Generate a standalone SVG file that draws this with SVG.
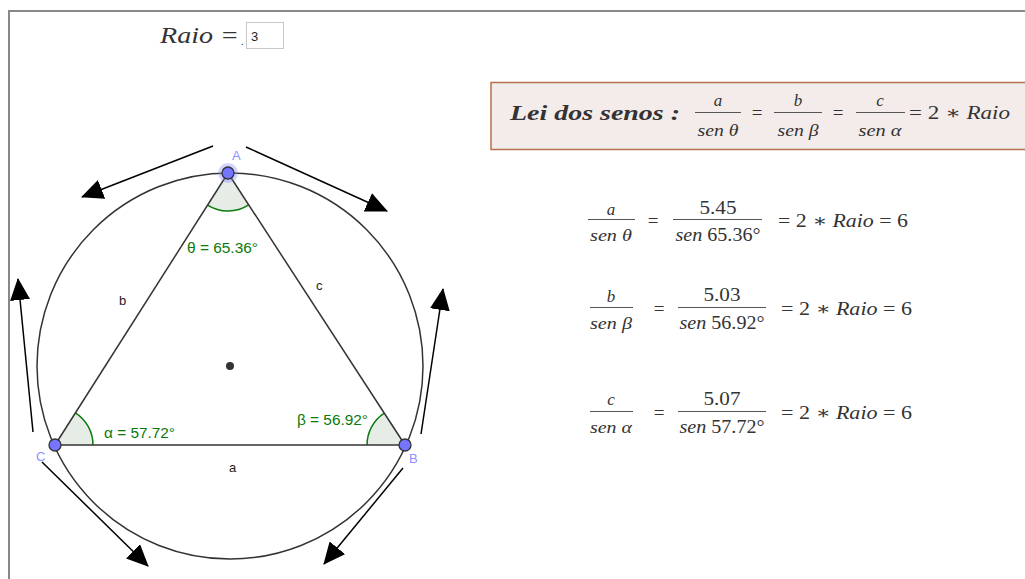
<svg xmlns="http://www.w3.org/2000/svg" width="1025" height="579" viewBox="0 0 1025 579">
<style>
.sans{font-family:"Liberation Sans",Arial,sans-serif;font-size:13px}
.lbl{fill:#222}
.vtx{fill:#8f8fff}
.ang{fill:#0a7a0a;font-size:14px}
.m{font-family:"Liberation Serif","DejaVu Serif",serif;fill:#333}
.it{font-style:italic}
.sector{fill:#e6ede6}
.side{stroke:#333;stroke-width:1.5;fill:none}
.arc{fill:none;stroke:#0a7a0a;stroke-width:1.5}
.arr{stroke:#000;stroke-width:1.5;fill:none;marker-end:url(#ah)}
.frac{stroke:#555;stroke-width:1}
.pt{fill:#7575ff;stroke:#333;stroke-width:1.3}
</style>
<defs>
<marker id="ah" markerUnits="userSpaceOnUse" markerWidth="22" markerHeight="20" refX="21" refY="10" orient="auto">
<path d="M0,0 L22,10 L0,20 Z" fill="#000"/>
</marker>
</defs>
<rect width="1025" height="579" fill="#fff"/>
<g id="frame" stroke="#888" stroke-width="2" fill="none">
<line x1="8" y1="11" x2="1025" y2="11"/>
<line x1="9" y1="10" x2="9" y2="579"/>
</g>

<g id="raio">
<text x="160" y="43" class="m it" font-size="23" fill="#222" textLength="79" lengthAdjust="spacingAndGlyphs">Raio =</text>
<text x="241" y="45" class="m" font-size="10">.</text>
<rect x="246.5" y="22.5" width="37" height="26" fill="#fff" stroke="#c8c8c8"/>
<text x="251" y="41" class="sans" fill="#222">3</text>
</g>

<g id="circle">
<circle cx="230" cy="366" r="193" fill="none" stroke="#333" stroke-width="1.5"/>
<circle cx="230" cy="366" r="4" fill="#333"/>
</g>

<g id="angles">
<path class="sector" d="M228,173 L207.6,205.1 A38,38 0 0 0 248.7,204.9 Z"/>
<path class="arc" d="M207.6,205.1 A38,38 0 0 0 248.7,204.9"/>
<path class="sector" d="M55,445 L93,445 A38,38 0 0 0 75.4,412.9 Z"/>
<path class="arc" d="M93,445 A38,38 0 0 0 75.4,412.9"/>
<path class="sector" d="M405,445 L384.3,413.1 A38,38 0 0 0 367,445 Z"/>
<path class="arc" d="M384.3,413.1 A38,38 0 0 0 367,445"/>
</g>

<g id="triangle">
<line class="side" x1="228" y1="173" x2="55" y2="445"/>
<line class="side" x1="228" y1="173" x2="405" y2="445"/>
<line class="side" x1="55" y1="445" x2="405" y2="445"/>
</g>

<g id="connectors">
<line class="arr" x1="213" y1="146" x2="82" y2="197"/>
<line class="arr" x1="246" y1="147" x2="387" y2="211"/>
<line class="arr" x1="33" y1="432" x2="18" y2="279"/>
<line class="arr" x1="421" y1="434" x2="443" y2="289"/>
<line class="arr" x1="42" y1="462" x2="148" y2="566"/>
<line class="arr" x1="403" y1="468" x2="324" y2="564"/>
</g>

<g id="pointA">
<circle cx="228" cy="173" r="10" fill="#8080ff" opacity="0.35"/>
<circle class="pt" cx="228" cy="173" r="6"/>
<text x="232" y="160" class="sans vtx">A</text>
</g>
<g id="pointB">
<circle class="pt" cx="405" cy="445" r="6"/>
<text x="409" y="463" class="sans vtx">B</text>
</g>
<g id="pointC">
<circle class="pt" cx="55" cy="445" r="6"/>
<text x="36" y="461" class="sans vtx">C</text>
</g>

<g id="labels">
<text x="119" y="305" class="sans lbl">b</text>
<text x="316" y="290" class="sans lbl">c</text>
<text x="229" y="472" class="sans lbl">a</text>
<text x="187" y="253" class="sans ang" textLength="71" lengthAdjust="spacingAndGlyphs">θ = 65.36°</text>
<text x="104" y="438" class="sans ang" textLength="71" lengthAdjust="spacingAndGlyphs">α = 57.72°</text>
<text x="297" y="425" class="sans ang" textLength="71" lengthAdjust="spacingAndGlyphs">β = 56.92°</text>
</g>

<g id="lei">
<rect x="491" y="82.5" width="540" height="67" fill="#f4ecea" stroke="#b5714f" stroke-width="1.5"/>
<text x="510" y="120" class="m it" font-size="21" font-weight="bold" fill="#111" textLength="170" lengthAdjust="spacingAndGlyphs">Lei dos senos :</text>
<g class="m it" font-size="17" text-anchor="middle" fill="#222">
<text x="718" y="106">a</text>
<text x="718" y="136" textLength="41" lengthAdjust="spacingAndGlyphs">sen θ</text>
<text x="798" y="106">b</text>
<text x="798" y="136" textLength="41" lengthAdjust="spacingAndGlyphs">sen β</text>
<text x="880" y="106">c</text>
<text x="880" y="136" textLength="43" lengthAdjust="spacingAndGlyphs">sen α</text>
</g>
<line class="frac" x1="695" y1="112.5" x2="741" y2="112.5"/>
<line class="frac" x1="774" y1="112.5" x2="822" y2="112.5"/>
<line class="frac" x1="856" y1="112.5" x2="905" y2="112.5"/>
<text x="757" y="119" class="m" font-size="19" text-anchor="middle" fill="#222">=</text>
<text x="838" y="119" class="m" font-size="19" text-anchor="middle" fill="#222">=</text>
<text x="909" y="119" class="m" font-size="18" fill="#222" textLength="101" lengthAdjust="spacingAndGlyphs">= 2 ∗ <tspan font-style="italic">Raio</tspan></text>
</g>

<g id="eq1">
<text x="611" y="215" class="m it" font-size="17" text-anchor="middle">a</text>
<line class="frac" x1="588" y1="219.5" x2="635" y2="219.5"/>
<text x="611" y="241" class="m it" font-size="17" text-anchor="middle" textLength="42" lengthAdjust="spacingAndGlyphs">sen θ</text>
<text x="653" y="227" class="m" font-size="19" text-anchor="middle">=</text>
<text x="718" y="214" class="m" font-size="18" text-anchor="middle" textLength="37" lengthAdjust="spacingAndGlyphs">5.45</text>
<line class="frac" x1="673" y1="219.5" x2="762" y2="219.5"/>
<text x="718" y="241" class="m" font-size="18" text-anchor="middle" textLength="85" lengthAdjust="spacingAndGlyphs"><tspan font-style="italic">sen</tspan> 65.36°</text>
<text x="778" y="227" class="m" font-size="18" textLength="130" lengthAdjust="spacingAndGlyphs">=  2 ∗ <tspan font-style="italic">Raio</tspan> =  6</text>
</g>

<g id="eq2">
<text x="611" y="302" class="m it" font-size="17" text-anchor="middle">b</text>
<line class="frac" x1="590" y1="307.5" x2="633" y2="307.5"/>
<text x="611" y="329" class="m it" font-size="17" text-anchor="middle" textLength="42" lengthAdjust="spacingAndGlyphs">sen β</text>
<text x="659" y="315" class="m" font-size="19" text-anchor="middle">=</text>
<text x="722" y="301" class="m" font-size="18" text-anchor="middle" textLength="37" lengthAdjust="spacingAndGlyphs">5.03</text>
<line class="frac" x1="678" y1="307.5" x2="766" y2="307.5"/>
<text x="722" y="329" class="m" font-size="18" text-anchor="middle" textLength="85" lengthAdjust="spacingAndGlyphs"><tspan font-style="italic">sen</tspan> 56.92°</text>
<text x="781" y="315" class="m" font-size="18" textLength="131" lengthAdjust="spacingAndGlyphs">=  2 ∗ <tspan font-style="italic">Raio</tspan> =  6</text>
</g>

<g id="eq3">
<text x="611" y="405" class="m it" font-size="17" text-anchor="middle">c</text>
<line class="frac" x1="590" y1="411.5" x2="633" y2="411.5"/>
<text x="611" y="433" class="m it" font-size="17" text-anchor="middle" textLength="42" lengthAdjust="spacingAndGlyphs">sen α</text>
<text x="659" y="419" class="m" font-size="19" text-anchor="middle">=</text>
<text x="722" y="405" class="m" font-size="18" text-anchor="middle" textLength="37" lengthAdjust="spacingAndGlyphs">5.07</text>
<line class="frac" x1="678" y1="411.5" x2="766" y2="411.5"/>
<text x="722" y="433" class="m" font-size="18" text-anchor="middle" textLength="85" lengthAdjust="spacingAndGlyphs"><tspan font-style="italic">sen</tspan> 57.72°</text>
<text x="781" y="419" class="m" font-size="18" textLength="131" lengthAdjust="spacingAndGlyphs">=  2 ∗ <tspan font-style="italic">Raio</tspan> =  6</text>
</g>
</svg>
